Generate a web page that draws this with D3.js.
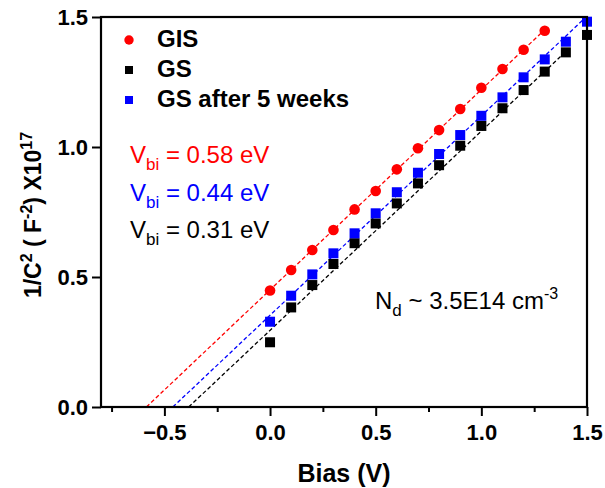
<!DOCTYPE html>
<html>
<head>
<meta charset="utf-8">
<script src="https://cdn.jsdelivr.net/npm/d3@7"></script>
<style>
  html, body { margin: 0; padding: 0; background: #fff; }
  svg { display: block; font-family: "Liberation Sans", Arial, sans-serif; }
</style>
</head>
<body>
<svg id="chart" width="605" height="488"></svg>
<script>
// Mott-Schottky data: 1/C^2 (x10^17 F^-2) against bias voltage
const biasGIS = [0.0, 0.1, 0.2, 0.3, 0.4, 0.5, 0.6, 0.7, 0.8, 0.9, 1.0, 1.1, 1.2, 1.3];
const valuesGIS = [0.448, 0.527, 0.604, 0.681, 0.760, 0.831, 0.914, 0.995, 1.065, 1.146, 1.228, 1.300, 1.374, 1.447];

const biasGS = [0.0, 0.1, 0.2, 0.3, 0.4, 0.5, 0.6, 0.7, 0.8, 0.9, 1.0, 1.1, 1.2, 1.3, 1.4, 1.5];
const valuesGS = [0.249, 0.383, 0.469, 0.550, 0.630, 0.706, 0.783, 0.860, 0.930, 1.005, 1.081, 1.149, 1.219, 1.290, 1.364, 1.431];
const valuesGS5w = [0.328, 0.428, 0.510, 0.591, 0.668, 0.745, 0.826, 0.901, 0.973, 1.046, 1.120, 1.191, 1.268, 1.337, 1.405, 1.482];

// Linear fits: x-intercept, slope, last bias of the fitted segment
const fitNames = ["GIS", "GS after 5 weeks", "GS"];
const fitIntercepts = [-0.585, -0.46, -0.385];
const fitSlopes = [0.770, 0.767, 0.766];
const fitEnds = [1.3, 1.5, 1.41];

const xMajorTicks = [-0.5, 0.0, 0.5, 1.0, 1.5];
const xMinorTicks = [-0.75, -0.25, 0.25, 0.75, 1.25];
const yMajorTicks = [0.0, 0.5, 1.0, 1.5];

const legendNames = ["GIS", "GS", "GS after 5 weeks"];
const vbiLabels = ["0.58 eV", "0.44 eV", "0.31 eV"];

const colRed = "#ff0000", colBlack = "#000000", colBlue = "#0000ff";

const svg = d3.select("#chart");
const margin = { left: 101, right: 18, top: 17, bottom: 81 };
const W = 605, H = 488;
const x = d3.scaleLinear().domain([-0.8, 1.5]).range([margin.left, W - margin.right]);
const y = d3.scaleLinear().domain([0, 1.5]).range([H - margin.bottom, margin.top]);

const plot = svg.append("g");
plot.append("clipPath").attr("id", "clip").append("rect")
  .attr("x", x(-0.8)).attr("y", y(1.5)).attr("width", x(1.5) - x(-0.8)).attr("height", y(0) - y(1.5));

// Fitted dashed lines
const fitColors = [colRed, colBlue, colBlack];
fitNames.forEach((n, i) => {
  const pts = [fitIntercepts[i], fitEnds[i]].map(b => [b, fitSlopes[i] * (b - fitIntercepts[i])]);
  plot.append("path")
    .attr("clip-path", "url(#clip)")
    .attr("d", d3.line().x(d => x(d[0])).y(d => y(d[1]))(pts))
    .attr("fill", "none").attr("stroke", fitColors[i])
    .attr("stroke-width", 1.3).attr("stroke-dasharray", "4,2.5");
});

// Markers
const sq = 10;
plot.selectAll(".gs").data(biasGS.map((b, i) => [b, valuesGS[i]])).join("rect")
  .attr("x", d => x(d[0]) - sq / 2).attr("y", d => y(d[1]) - sq / 2)
  .attr("width", sq).attr("height", sq).attr("fill", colBlack);
plot.selectAll(".gs5").data(biasGS.map((b, i) => [b, valuesGS5w[i]])).join("rect")
  .attr("x", d => x(d[0]) - sq / 2).attr("y", d => y(d[1]) - sq / 2)
  .attr("width", sq).attr("height", sq).attr("fill", colBlue);
plot.selectAll(".gis").data(biasGIS.map((b, i) => [b, valuesGIS[i]])).join("circle")
  .attr("cx", d => x(d[0])).attr("cy", d => y(d[1])).attr("r", 5.3).attr("fill", colRed);

// Axes
svg.append("g").attr("transform", `translate(0,${y(0)})`)
  .call(d3.axisBottom(x).tickValues(xMajorTicks).tickSize(9).tickPadding(8).tickFormat(d3.format(".1f")));
svg.append("g").attr("transform", `translate(0,${y(0)})`)
  .call(d3.axisBottom(x).tickValues(xMinorTicks).tickSize(5).tickFormat(""))
  .call(g => g.select(".domain").remove());
svg.append("g").attr("transform", `translate(${x(-0.8)},0)`)
  .call(d3.axisLeft(y).tickValues(yMajorTicks).tickSize(9).tickPadding(4).tickFormat(d3.format(".1f")));

svg.selectAll(".tick line").attr("stroke-width", 2);
svg.selectAll(".domain").remove();
svg.selectAll(".tick text")
  .attr("font-family", "Liberation Sans, Arial, sans-serif")
  .attr("font-size", 22).attr("font-weight", "bold").attr("fill", "#000");

// Frame
svg.append("rect")
  .attr("x", x(-0.8)).attr("y", y(1.5))
  .attr("width", x(1.5) - x(-0.8)).attr("height", y(0) - y(1.5))
  .attr("fill", "none").attr("stroke", "#000").attr("stroke-width", 2.2);

// Axis titles
svg.append("text")
  .attr("x", (x(-0.8) + x(1.5)) / 2).attr("y", 482)
  .attr("text-anchor", "middle").attr("font-size", 25).attr("font-weight", "bold")
  .text("Bias (V)");

const yt = svg.append("text")
  .attr("transform", `translate(41,${(y(0) + y(1.5)) / 2 + 3}) rotate(-90)`)
  .attr("text-anchor", "middle").attr("font-size", 23).attr("font-weight", "bold");
yt.append("tspan").text("1/C");
yt.append("tspan").attr("dy", -9).attr("font-size", 16).text("2");
yt.append("tspan").attr("dy", 9).text(" ( F");
yt.append("tspan").attr("dy", -9).attr("font-size", 16).text("-2");
yt.append("tspan").attr("dy", 9).text(") X10");
yt.append("tspan").attr("dy", -9).attr("font-size", 16).text("17");

// Legend
const legendColors = [colRed, colBlack, colBlue];
const legend = svg.append("g");
legendNames.forEach((n, i) => {
  const ly = 40 + i * 30;
  if (i === 0) {
    legend.append("circle").attr("cx", 129).attr("cy", ly).attr("r", 4.7).attr("fill", legendColors[i]);
  } else {
    legend.append("rect").attr("x", 125).attr("y", ly - 4).attr("width", 8).attr("height", 8).attr("fill", legendColors[i]);
  }
  legend.append("text").attr("x", 157).attr("y", ly + 7)
    .attr("font-size", 24).attr("font-weight", "bold").text(n);
});

// Built-in potential annotations
const vbiColors = [colRed, colBlue, colBlack];
vbiLabels.forEach((v, i) => {
  const t = svg.append("text").attr("x", 130).attr("y", 163 + i * 37.5)
    .attr("font-size", 24).attr("fill", vbiColors[i]);
  t.append("tspan").text("V");
  t.append("tspan").attr("dy", 7).attr("font-size", 17).text("bi");
  t.append("tspan").attr("dy", -7).text(" = " + v);
});

// Doping density annotation
const nd = svg.append("text").attr("x", 375).attr("y", 309).attr("font-size", 24).attr("fill", "#000");
nd.append("tspan").text("N");
nd.append("tspan").attr("dy", 7).attr("font-size", 17).text("d");
nd.append("tspan").attr("dy", -7).text(" ~ 3.5E14 cm");
nd.append("tspan").attr("dy", -10).attr("font-size", 16).text("-3");
</script>
</body>
</html>
